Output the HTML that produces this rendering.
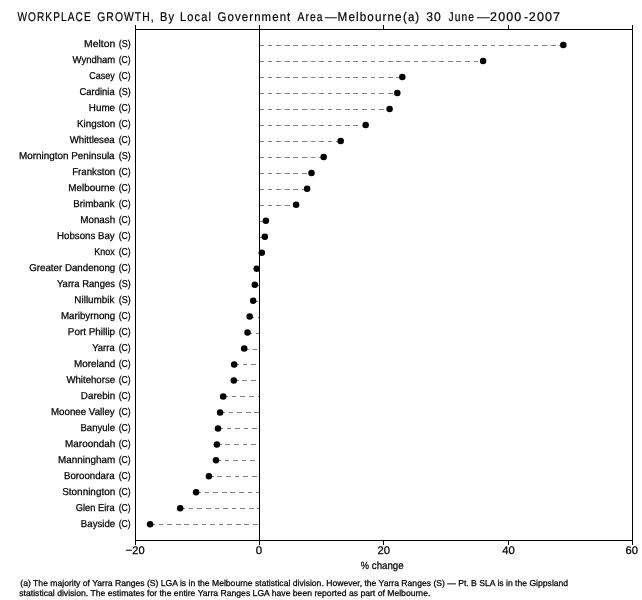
<!DOCTYPE html>
<html lang="en"><head><meta charset="utf-8"><title>Workplace growth by Local Government Area, Melbourne</title>
<style>
html,body{margin:0;padding:0;background:#fff}
svg{display:block}
text{font-family:"Liberation Sans",sans-serif;fill:#000;stroke:#000;stroke-width:0.25px;white-space:pre;text-rendering:geometricPrecision}
.ttl{stroke-width:0.2px}
</style></head><body>
<svg width="642" height="600" viewBox="0 0 642 600">
<rect width="642" height="600" fill="#fff"/>
<path fill="#808080" shape-rendering="crispEdges" d="M259 45h5v1h-5zM268 45h4v1h-4zM276 45h5v1h-5zM285 45h5v1h-5zM293 45h5v1h-5zM302 45h5v1h-5zM311 45h4v1h-4zM319 45h5v1h-5zM328 45h4v1h-4zM336 45h5v1h-5zM345 45h5v1h-5zM353 45h5v1h-5zM362 45h5v1h-5zM371 45h4v1h-4zM379 45h5v1h-5zM388 45h5v1h-5zM396 45h5v1h-5zM405 45h5v1h-5zM414 45h4v1h-4zM422 45h5v1h-5zM431 45h4v1h-4zM439 45h5v1h-5zM448 45h5v1h-5zM456 45h5v1h-5zM465 45h5v1h-5zM474 45h4v1h-4zM482 45h5v1h-5zM491 45h4v1h-4zM499 45h5v1h-5zM508 45h5v1h-5zM517 45h4v1h-4zM525 45h5v1h-5zM534 45h4v1h-4zM542 45h5v1h-5zM551 45h5v1h-5zM559 45h1v1h-1zM259 61h5v1h-5zM268 61h4v1h-4zM276 61h5v1h-5zM285 61h5v1h-5zM293 61h5v1h-5zM302 61h5v1h-5zM311 61h4v1h-4zM319 61h5v1h-5zM328 61h4v1h-4zM336 61h5v1h-5zM345 61h5v1h-5zM353 61h5v1h-5zM362 61h5v1h-5zM371 61h4v1h-4zM379 61h5v1h-5zM388 61h5v1h-5zM396 61h5v1h-5zM405 61h5v1h-5zM414 61h4v1h-4zM422 61h5v1h-5zM431 61h4v1h-4zM439 61h5v1h-5zM448 61h5v1h-5zM456 61h5v1h-5zM465 61h5v1h-5zM474 61h4v1h-4zM259 77h5v1h-5zM268 77h4v1h-4zM276 77h5v1h-5zM285 77h5v1h-5zM293 77h5v1h-5zM302 77h5v1h-5zM311 77h4v1h-4zM319 77h5v1h-5zM328 77h4v1h-4zM336 77h5v1h-5zM345 77h5v1h-5zM353 77h5v1h-5zM362 77h5v1h-5zM371 77h4v1h-4zM379 77h5v1h-5zM388 77h5v1h-5zM396 77h3v1h-3zM259 93h5v1h-5zM268 93h4v1h-4zM276 93h5v1h-5zM285 93h5v1h-5zM293 93h5v1h-5zM302 93h5v1h-5zM311 93h4v1h-4zM319 93h5v1h-5zM328 93h4v1h-4zM336 93h5v1h-5zM345 93h5v1h-5zM353 93h5v1h-5zM362 93h5v1h-5zM371 93h4v1h-4zM379 93h5v1h-5zM388 93h5v1h-5zM259 109h5v1h-5zM268 109h4v1h-4zM276 109h5v1h-5zM285 109h5v1h-5zM293 109h5v1h-5zM302 109h5v1h-5zM311 109h4v1h-4zM319 109h5v1h-5zM328 109h4v1h-4zM336 109h5v1h-5zM345 109h5v1h-5zM353 109h5v1h-5zM362 109h5v1h-5zM371 109h4v1h-4zM379 109h5v1h-5zM259 125h5v1h-5zM268 125h4v1h-4zM276 125h5v1h-5zM285 125h5v1h-5zM293 125h5v1h-5zM302 125h5v1h-5zM311 125h4v1h-4zM319 125h5v1h-5zM328 125h4v1h-4zM336 125h5v1h-5zM345 125h5v1h-5zM353 125h5v1h-5zM362 125h1v1h-1zM259 141h5v1h-5zM268 141h4v1h-4zM276 141h5v1h-5zM285 141h5v1h-5zM293 141h5v1h-5zM302 141h5v1h-5zM311 141h4v1h-4zM319 141h5v1h-5zM328 141h4v1h-4zM336 141h2v1h-2zM259 157h5v1h-5zM268 157h4v1h-4zM276 157h5v1h-5zM285 157h5v1h-5zM293 157h5v1h-5zM302 157h5v1h-5zM311 157h4v1h-4zM319 157h2v1h-2zM259 173h5v1h-5zM268 173h4v1h-4zM276 173h5v1h-5zM285 173h5v1h-5zM293 173h5v1h-5zM302 173h5v1h-5zM259 189h5v1h-5zM268 189h4v1h-4zM276 189h5v1h-5zM285 189h5v1h-5zM293 189h5v1h-5zM302 189h2v1h-2zM259 205h5v1h-5zM268 205h4v1h-4zM276 205h5v1h-5zM285 205h5v1h-5zM259 221h4v1h-4zM259 237h3v1h-3zM257 269h2v1h-2zM255 285h4v1h-4zM253 301h5v1h-5zM250 317h4v1h-4zM258 317h1v1h-1zM248 333h4v1h-4zM256 333h3v1h-3zM244 349h5v1h-5zM253 349h4v1h-4zM234 364h5v1h-5zM243 364h4v1h-4zM251 364h5v1h-5zM234 380h5v1h-5zM242 380h5v1h-5zM251 380h5v1h-5zM223 396h5v1h-5zM232 396h4v1h-4zM240 396h5v1h-5zM249 396h5v1h-5zM258 396h1v1h-1zM220 412h5v1h-5zM229 412h4v1h-4zM237 412h5v1h-5zM246 412h5v1h-5zM254 412h5v1h-5zM218 428h5v1h-5zM227 428h4v1h-4zM235 428h5v1h-5zM244 428h4v1h-4zM252 428h5v1h-5zM217 444h5v1h-5zM225 444h5v1h-5zM234 444h5v1h-5zM243 444h4v1h-4zM251 444h5v1h-5zM216 460h5v1h-5zM225 460h4v1h-4zM233 460h5v1h-5zM242 460h4v1h-4zM250 460h5v1h-5zM209 476h5v1h-5zM217 476h5v1h-5zM226 476h5v1h-5zM235 476h4v1h-4zM243 476h5v1h-5zM252 476h5v1h-5zM196 492h5v1h-5zM205 492h4v1h-4zM213 492h5v1h-5zM222 492h5v1h-5zM230 492h5v1h-5zM239 492h5v1h-5zM248 492h4v1h-4zM256 492h3v1h-3zM180 508h5v1h-5zM189 508h4v1h-4zM197 508h5v1h-5zM206 508h5v1h-5zM215 508h4v1h-4zM223 508h5v1h-5zM232 508h4v1h-4zM240 508h5v1h-5zM249 508h5v1h-5zM257 508h2v1h-2zM150 524h5v1h-5zM159 524h4v1h-4zM167 524h5v1h-5zM176 524h5v1h-5zM184 524h5v1h-5zM193 524h5v1h-5zM202 524h4v1h-4zM210 524h5v1h-5zM219 524h4v1h-4zM227 524h5v1h-5zM236 524h5v1h-5zM244 524h5v1h-5zM253 524h5v1h-5z"/>
<path fill="#000" shape-rendering="crispEdges" d="M135 25h1v516h-1zM135 29h498v1h-498zM632 25h1v520h-1zM135 540h498v1h-498zM135 540h1v5h-1zM259 25h1v520h-1zM383 25h1v4h-1zM383 541h1v4h-1zM508 25h1v4h-1zM508 541h1v4h-1z"/>
<g><circle cx="563.3" cy="45.10" r="3.25"/><circle cx="483.1" cy="61.07" r="3.25"/><circle cx="402.3" cy="77.04" r="3.25"/><circle cx="397.3" cy="93.02" r="3.25"/><circle cx="389.6" cy="108.99" r="3.25"/><circle cx="365.7" cy="124.96" r="3.25"/><circle cx="340.7" cy="140.93" r="3.25"/><circle cx="323.7" cy="156.90" r="3.25"/><circle cx="311.5" cy="172.88" r="3.25"/><circle cx="307.1" cy="188.85" r="3.25"/><circle cx="296.1" cy="204.82" r="3.25"/><circle cx="265.9" cy="220.79" r="3.25"/><circle cx="264.8" cy="236.76" r="3.25"/><circle cx="261.8" cy="252.74" r="3.25"/><circle cx="256.7" cy="268.71" r="3.25"/><circle cx="254.8" cy="284.68" r="3.25"/><circle cx="253.2" cy="300.65" r="3.25"/><circle cx="249.7" cy="316.62" r="3.25"/><circle cx="247.5" cy="332.60" r="3.25"/><circle cx="244.2" cy="348.57" r="3.25"/><circle cx="234.2" cy="364.54" r="3.25"/><circle cx="233.8" cy="380.51" r="3.25"/><circle cx="223.2" cy="396.48" r="3.25"/><circle cx="220.1" cy="412.46" r="3.25"/><circle cx="218.0" cy="428.43" r="3.25"/><circle cx="216.9" cy="444.40" r="3.25"/><circle cx="216.0" cy="460.37" r="3.25"/><circle cx="208.9" cy="476.34" r="3.25"/><circle cx="196.1" cy="492.32" r="3.25"/><circle cx="180.2" cy="508.29" r="3.25"/><circle cx="150.1" cy="524.26" r="3.25"/></g>
<text class="lab" font-size="10.0" transform="translate(84.12 47.25) scale(1.0373 1)">Melton</text>
<text class="lab" font-size="10.0" transform="translate(118.69 47.25) scale(0.9052 1)">(S)</text>
<text class="lab" font-size="10.0" transform="translate(72.52 63.25) scale(0.9494 1)">Wyndham</text>
<text class="lab" font-size="10.0" transform="translate(118.70 63.25) scale(0.8672 1)">(C)</text>
<text class="lab" font-size="10.0" transform="translate(89.19 79.25) scale(0.8995 1)">Casey</text>
<text class="lab" font-size="10.0" transform="translate(118.70 79.25) scale(0.8672 1)">(C)</text>
<text class="lab" font-size="10.0" transform="translate(79.48 95.25) scale(0.9438 1)">Cardinia</text>
<text class="lab" font-size="10.0" transform="translate(118.69 95.25) scale(0.9052 1)">(S)</text>
<text class="lab" font-size="10.0" transform="translate(88.85 111.25) scale(0.9830 1)">Hume</text>
<text class="lab" font-size="10.0" transform="translate(118.70 111.25) scale(0.8672 1)">(C)</text>
<text class="lab" font-size="10.0" transform="translate(76.95 127.25) scale(0.9835 1)">Kingston</text>
<text class="lab" font-size="10.0" transform="translate(118.70 127.25) scale(0.8672 1)">(C)</text>
<text class="lab" font-size="10.0" transform="translate(69.72 143.25) scale(0.9617 1)">Whittlesea</text>
<text class="lab" font-size="10.0" transform="translate(118.70 143.25) scale(0.8672 1)">(C)</text>
<text class="lab" font-size="10.0" transform="translate(19.10 159.25) scale(0.9874 1)">Mornington Peninsula</text>
<text class="lab" font-size="10.0" transform="translate(118.69 159.25) scale(0.9052 1)">(S)</text>
<text class="lab" font-size="10.0" transform="translate(72.16 175.25) scale(0.9684 1)">Frankston</text>
<text class="lab" font-size="10.0" transform="translate(118.70 175.25) scale(0.8672 1)">(C)</text>
<text class="lab" font-size="10.0" transform="translate(68.25 191.25) scale(0.9911 1)">Melbourne</text>
<text class="lab" font-size="10.0" transform="translate(118.70 191.25) scale(0.8672 1)">(C)</text>
<text class="lab" font-size="10.0" transform="translate(73.26 207.25) scale(0.9770 1)">Brimbank</text>
<text class="lab" font-size="10.0" transform="translate(118.70 207.25) scale(0.8672 1)">(C)</text>
<text class="lab" font-size="10.0" transform="translate(80.25 223.25) scale(0.9831 1)">Monash</text>
<text class="lab" font-size="10.0" transform="translate(118.70 223.25) scale(0.8672 1)">(C)</text>
<text class="lab" font-size="10.0" transform="translate(57.06 239.25) scale(0.9687 1)">Hobsons Bay</text>
<text class="lab" font-size="10.0" transform="translate(118.70 239.25) scale(0.8672 1)">(C)</text>
<text class="lab" font-size="10.0" transform="translate(94.31 255.25) scale(0.8939 1)">Knox</text>
<text class="lab" font-size="10.0" transform="translate(118.70 255.25) scale(0.8672 1)">(C)</text>
<text class="lab" font-size="10.0" transform="translate(29.17 271.25) scale(0.9736 1)">Greater Dandenong</text>
<text class="lab" font-size="10.0" transform="translate(118.70 271.25) scale(0.8672 1)">(C)</text>
<text class="lab" font-size="10.0" transform="translate(56.97 287.25) scale(0.9516 1)">Yarra Ranges</text>
<text class="lab" font-size="10.0" transform="translate(118.69 287.25) scale(0.9052 1)">(S)</text>
<text class="lab" font-size="10.0" transform="translate(74.35 303.25) scale(0.9904 1)">Nillumbik</text>
<text class="lab" font-size="10.0" transform="translate(118.69 303.25) scale(0.9052 1)">(S)</text>
<text class="lab" font-size="10.0" transform="translate(60.96 319.25) scale(0.9764 1)">Maribyrnong</text>
<text class="lab" font-size="10.0" transform="translate(118.70 319.25) scale(0.8672 1)">(C)</text>
<text class="lab" font-size="10.0" transform="translate(67.85 335.25) scale(0.9880 1)">Port Phillip</text>
<text class="lab" font-size="10.0" transform="translate(118.70 335.25) scale(0.8672 1)">(C)</text>
<text class="lab" font-size="10.0" transform="translate(92.27 351.25) scale(0.9427 1)">Yarra</text>
<text class="lab" font-size="10.0" transform="translate(118.70 351.25) scale(0.8672 1)">(C)</text>
<text class="lab" font-size="10.0" transform="translate(73.95 367.25) scale(0.9902 1)">Moreland</text>
<text class="lab" font-size="10.0" transform="translate(118.70 367.25) scale(0.8672 1)">(C)</text>
<text class="lab" font-size="10.0" transform="translate(66.42 383.25) scale(0.9619 1)">Whitehorse</text>
<text class="lab" font-size="10.0" transform="translate(118.70 383.25) scale(0.8672 1)">(C)</text>
<text class="lab" font-size="10.0" transform="translate(80.86 399.25) scale(0.9815 1)">Darebin</text>
<text class="lab" font-size="10.0" transform="translate(118.70 399.25) scale(0.8672 1)">(C)</text>
<text class="lab" font-size="10.0" transform="translate(50.96 415.25) scale(0.9741 1)">Moonee Valley</text>
<text class="lab" font-size="10.0" transform="translate(118.70 415.25) scale(0.8672 1)">(C)</text>
<text class="lab" font-size="10.0" transform="translate(80.47 431.25) scale(0.9574 1)">Banyule</text>
<text class="lab" font-size="10.0" transform="translate(118.70 431.25) scale(0.8672 1)">(C)</text>
<text class="lab" font-size="10.0" transform="translate(65.05 447.25) scale(0.9920 1)">Maroondah</text>
<text class="lab" font-size="10.0" transform="translate(118.70 447.25) scale(0.8672 1)">(C)</text>
<text class="lab" font-size="10.0" transform="translate(58.10 463.25) scale(0.9874 1)">Manningham</text>
<text class="lab" font-size="10.0" transform="translate(118.70 463.25) scale(0.8672 1)">(C)</text>
<text class="lab" font-size="10.0" transform="translate(63.96 479.25) scale(0.9692 1)">Boroondara</text>
<text class="lab" font-size="10.0" transform="translate(118.70 479.25) scale(0.8672 1)">(C)</text>
<text class="lab" font-size="10.0" transform="translate(62.21 495.25) scale(0.9933 1)">Stonnington</text>
<text class="lab" font-size="10.0" transform="translate(118.70 495.25) scale(0.8672 1)">(C)</text>
<text class="lab" font-size="10.0" transform="translate(75.78 511.25) scale(0.9319 1)">Glen Eira</text>
<text class="lab" font-size="10.0" transform="translate(118.70 511.25) scale(0.8672 1)">(C)</text>
<text class="lab" font-size="10.0" transform="translate(80.87 527.25) scale(0.9613 1)">Bayside</text>
<text class="lab" font-size="10.0" transform="translate(118.70 527.25) scale(0.8672 1)">(C)</text>
<text class="tick" font-size="11.0" transform="translate(125.81 553.95) scale(1.0044 1)">−20</text>
<text class="tick" font-size="11.0" transform="translate(255.77 553.95) scale(1.0435 1)">0</text>
<text class="tick" font-size="11.0" transform="translate(377.50 553.95) scale(1.0175 1)">20</text>
<text class="tick" font-size="11.0" transform="translate(502.25 553.95) scale(1.0216 1)">40</text>
<text class="tick" font-size="11.0" transform="translate(625.60 553.95) scale(1.0175 1)">60</text>
<text class="tick" font-size="10.5" transform="translate(360.72 568.60) scale(0.8831 1)">%</text>
<text class="tick" font-size="10.5" transform="translate(371.81 568.60) scale(0.9250 1)">change</text>
<text class="ttl" font-size="12.6" transform="translate(17.38 21.00) scale(0.8019 1)" letter-spacing="1.372">WORKPLACE</text>
<text class="ttl" font-size="12.6" transform="translate(97.20 21.00) scale(0.8194 1)" letter-spacing="1.342">GROWTH,</text>
<text class="ttl" font-size="12.6" transform="translate(159.92 21.00) scale(0.8765 1)" letter-spacing="1.255">By</text>
<text class="ttl" font-size="12.6" transform="translate(180.12 21.00) scale(0.8770 1)" letter-spacing="1.254">Local</text>
<text class="ttl" font-size="12.6" transform="translate(217.56 21.00) scale(0.9060 1)" letter-spacing="1.214">Government</text>
<text class="ttl" font-size="12.6" transform="translate(297.48 21.00) scale(0.8180 1)" letter-spacing="1.345">Area</text>
<text class="ttl" font-size="12.6" transform="translate(324.99 21.00) scale(0.9375 1)">—</text>
<text class="ttl" font-size="12.6" transform="translate(337.58 21.00) scale(0.9272 1)" letter-spacing="1.186">Melbourne</text>
<text class="ttl" font-size="12.6" transform="translate(402.95 21.00) scale(0.9125 1)" letter-spacing="1.206">(a)</text>
<text class="ttl" font-size="12.6" transform="translate(426.22 21.00) scale(0.9624 1)" letter-spacing="1.143">30</text>
<text class="ttl" font-size="12.6" transform="translate(448.42 21.00) scale(0.8167 1)" letter-spacing="1.347">June</text>
<text class="ttl" font-size="12.6" transform="translate(476.90 21.00) scale(1.0000 1)">—</text>
<text class="ttl" font-size="12.6" transform="translate(490.12 21.00) scale(0.9881 1)" letter-spacing="1.113">2000</text>
<text class="ttl" font-size="12.6" transform="translate(524.14 21.00) scale(0.8740 1)">-</text>
<text class="ttl" font-size="12.6" transform="translate(528.81 21.00) scale(0.9989 1)" letter-spacing="1.101">2007</text>
<text class="fn" font-size="8.6" transform="translate(20.37 585.80) scale(1.0004 1)">(a) The majority of Yarra Ranges (S) LGA is in the Melbourne statistical division. However, the Yarra Ranges (S) — Pt. B SLA is in the Gippsland</text>
<text class="fn" font-size="8.6" transform="translate(19.29 595.70) scale(1.0029 1)">statistical division. The estimates for the entire Yarra Ranges LGA have been reported as part of Melbourne.</text>
</svg>
</body></html>
